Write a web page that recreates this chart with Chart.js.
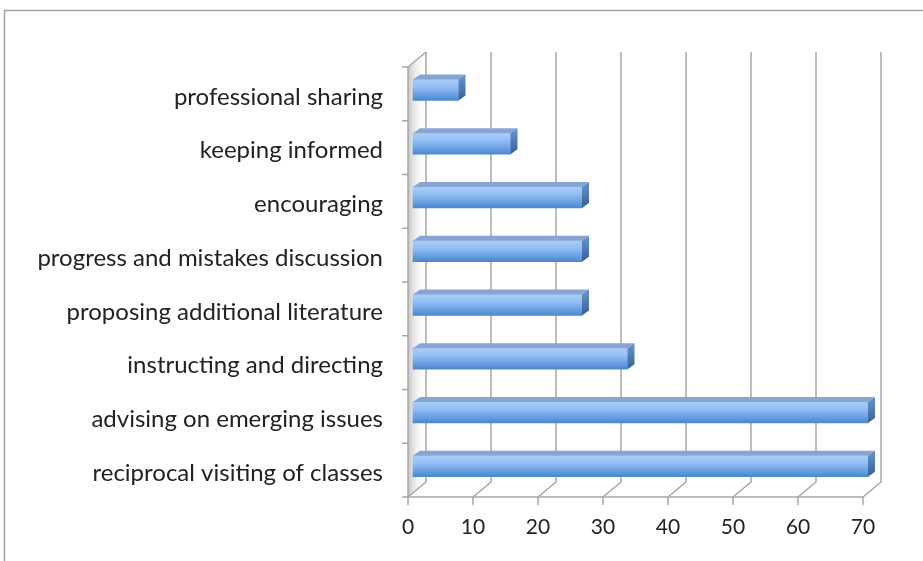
<!DOCTYPE html>
<html>
<head>
<meta charset="utf-8">
<script src="https://cdn.jsdelivr.net/npm/chart.js@4/dist/chart.umd.min.js"></script>
<style>
  html, body { margin: 0; padding: 0; background: #fff; }
  #wrap { position: relative; width: 923px; height: 561px; }
</style>
</head>
<body>
<div id="wrap"><canvas id="grafico-atividades" width="923" height="561"></canvas></div>
<script>
var categorias = [
  "professional sharing",
  "keeping informed",
  "encouraging",
  "progress and mistakes discussion",
  "proposing additional literature",
  "instructing and directing",
  "advising on emerging issues",
  "reciprocal visiting of classes"
];
var valores = [7, 15, 26, 26, 26, 33, 70, 70];
var ticksX = [0, 10, 20, 30, 40, 50, 60, 70];

// profundidade do efeito 3d
var prof = { dx: 18, dy: 15 };
var barra = { dx: 5, dy: -4, lado: 7, topo: 5 };

var fonteRotulo = { family: "Lato", size: 24 };
var fonteEixo = { family: "Lato", size: 21 };

// paredes, grade e chao desenhados a partir das escalas
var paredes3d = {
  id: 'paredes3d',
  beforeDatasetsDraw: function(chart) {
    var ctx = chart.ctx;
    var a = chart.chartArea;
    var x = chart.scales.x;

    // moldura externa
    ctx.save();
    ctx.strokeStyle = '#a0a0a0';
    ctx.lineWidth = 1.5;
    ctx.beginPath();
    ctx.moveTo(4.5, 561);
    ctx.lineTo(4.5, 10.5);
    ctx.lineTo(923, 10.5);
    ctx.stroke();

    // sombra da parede esquerda
    var g = ctx.createLinearGradient(a.left, 0, a.left + prof.dx, 0);
    g.addColorStop(0, 'rgba(150,150,150,0.55)');
    g.addColorStop(0.5, 'rgba(200,200,200,0.25)');
    g.addColorStop(1, 'rgba(255,255,255,0)');
    ctx.fillStyle = g;
    ctx.beginPath();
    ctx.moveTo(a.left, a.top);
    ctx.lineTo(a.left + prof.dx, a.top - prof.dy);
    ctx.lineTo(a.left + prof.dx, a.bottom - prof.dy);
    ctx.lineTo(a.left, a.bottom);
    ctx.closePath();
    ctx.fill();

    ctx.strokeStyle = '#a6a6a6';
    ctx.lineWidth = 1.5;

    // linhas de grade na parede do fundo + chao
    ticksX.forEach(function(v) {
      var px = x.getPixelForValue(v);
      ctx.beginPath();
      ctx.moveTo(px + prof.dx, a.top - prof.dy);
      ctx.lineTo(px + prof.dx, a.bottom - prof.dy);
      ctx.lineTo(px, a.bottom);
      ctx.lineTo(px, a.bottom + 8);
      ctx.stroke();
    });

    // parede esquerda frente
    ctx.beginPath();
    ctx.moveTo(a.left + prof.dx, a.top - prof.dy);
    ctx.lineTo(a.left, a.top);
    ctx.lineTo(a.left, a.bottom);
    ctx.lineTo(a.right, a.bottom);
    ctx.stroke();

    // marcas das categorias
    for (var i = 0; i <= categorias.length; i++) {
      var py = a.top + (a.bottom - a.top) * i / categorias.length;
      ctx.beginPath();
      ctx.moveTo(a.left - 6, py);
      ctx.lineTo(a.left, py);
      ctx.stroke();
    }
    ctx.restore();

    // desloca as barras para dentro da profundidade
    ctx.save();
    ctx.translate(barra.dx, barra.dy);
  },
  afterDatasetsDraw: function(chart) {
    var ctx = chart.ctx;
    var meta = chart.getDatasetMeta(0);
    meta.data.forEach(function(el) {
      var p = el.getProps(['x', 'y', 'base', 'height'], true);
      var t = p.y - p.height / 2;
      var b = p.y + p.height / 2;
      // topo
      ctx.fillStyle = '#86a5d3';
      ctx.beginPath();
      ctx.moveTo(p.base, t);
      ctx.lineTo(p.base + barra.lado, t - barra.topo);
      ctx.lineTo(p.x + barra.lado, t - barra.topo);
      ctx.lineTo(p.x, t);
      ctx.closePath();
      ctx.fill();
      // lateral
      var gl = ctx.createLinearGradient(0, t, 0, b);
      gl.addColorStop(0, '#5f8cc6');
      gl.addColorStop(1, '#375f92');
      ctx.fillStyle = gl;
      ctx.beginPath();
      ctx.moveTo(p.x, t);
      ctx.lineTo(p.x + barra.lado, t - barra.topo);
      ctx.lineTo(p.x + barra.lado, b - barra.topo);
      ctx.lineTo(p.x, b);
      ctx.closePath();
      ctx.fill();
    });
    ctx.restore();
  }
};

function corBarra(c) {
  var chart = c.chart;
  var y = chart.scales && chart.scales.y;
  if (!y || !chart.chartArea) return '#7aaeea';
  var yc = y.getPixelForValue(c.dataIndex);
  var h = 21;
  var g = chart.ctx.createLinearGradient(0, yc - h / 2, 0, yc + h / 2);
  g.addColorStop(0, '#aacdf8');
  g.addColorStop(0.35, '#92bff4');
  g.addColorStop(1, '#4a88d2');
  return g;
}

var ctx = document.getElementById('grafico-atividades');
var graficoAtividades = new Chart(ctx, {
  type: 'bar',
  data: {
    labels: categorias,
    datasets: [{
      label: 'atividades',
      data: valores,
      backgroundColor: corBarra,
      borderWidth: 0,
      barThickness: 21,
      clip: false
    }]
  },
  options: {
    indexAxis: 'y',
    responsive: false,
    animation: false,
    layout: { padding: { top: 67, right: 60, left: 0, bottom: 0 } },
    plugins: {
      legend: { display: false },
      tooltip: { enabled: false }
    },
    scales: {
      x: {
        min: 0,
        max: 70,
        afterBuildTicks: function(scale) {
          scale.ticks = ticksX.map(function(v) { return { value: v }; });
        },
        afterFit: function(scale) { scale.height = 64; },
        grid: { display: false, drawTicks: false },
        border: { display: false },
        ticks: { color: '#222', font: fonteEixo, padding: 18, maxRotation: 0 }
      },
      y: {
        afterFit: function(scale) { scale.width = 408; },
        grid: { display: false, drawTicks: false },
        border: { display: false },
        ticks: { color: '#222', font: fonteRotulo, padding: 25, labelOffset: 3, autoSkip: false }
      }
    }
  },
  plugins: [paredes3d]
});
</script>
</body>
</html>
